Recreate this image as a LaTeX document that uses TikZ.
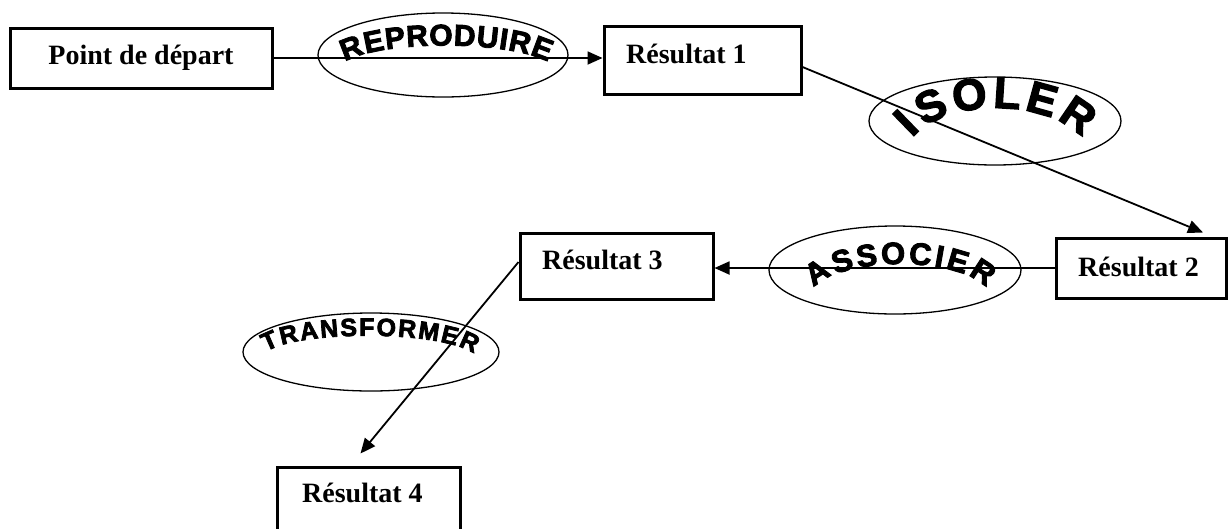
\documentclass[tikz,border=0pt]{standalone}
\usepackage{fontspec}
\setmainfont{Liberation Serif}
\newfontfamily\wafont[FakeBold=3]{Liberation Sans Bold}
\usetikzlibrary{arrows.meta,decorations.text,shapes.geometric}
\begin{document}
\begin{tikzpicture}[x=1pt,y=-1pt,
  box/.style={draw, line width=3pt, inner sep=0pt},
  lbl/.style={font=\bfseries\fontsize{28}{28}\selectfont, inner sep=0pt, anchor=base west},
  oval/.style={draw, ellipse, line width=1.3pt, inner sep=0pt},
  conn/.style={line width=1.8pt},
  arr/.style={conn, -{Triangle[length=15pt,width=13pt]}}
]
\useasboundingbox (0,0) rectangle (1229,528);

% boxes
\node[box, minimum width=262pt, minimum height=60pt, font=\bfseries\fontsize{28}{28}\selectfont] (P0) at (141,58) {Point de départ};
\node[box, minimum width=197pt, minimum height=68pt] (R1) at (702.5,60) {};
\node[lbl] (T1) at (626,63) {Résultat 1};
\node[box, minimum width=170pt, minimum height=60pt] (R2) at (1141,268) {};
\node[lbl] (T2) at (1078,276) {Résultat 2};
\node[box, minimum width=193pt, minimum height=66pt] (R3) at (616.5,266) {};
\node[lbl] (T3) at (542,269) {Résultat 3};
\node[box, minimum width=183pt, minimum height=68pt] (R4) at (368.5,501) {};
\node[lbl] (T4) at (302,502) {Résultat 4};

% ellipses
\node[oval, minimum width=250pt, minimum height=84pt] (E1) at (443,55) {};
\node[oval, minimum width=252pt, minimum height=88pt] (E2) at (995,121) {};
\node[oval, minimum width=252pt, minimum height=88pt] (E3) at (895,270) {};
\node[oval, minimum width=256pt, minimum height=78pt] (E4) at (371,352) {};

% connectors
\draw[arr] (P0.east) -- (P0.east -| R1.west);
\draw[arr] ([yshift=-7pt]R1.east) -- ([xshift=62pt,yshift=4pt]R2.north);
\draw[arr] (R2.west) -- (R2.west -| R3.east);
\draw[arr] ([yshift=4pt]R3.west) -- ([xshift=-8pt,yshift=12pt]R4.north);

% arched word-art labels
\path[decorate, decoration={text along path, text align={fit to path},
  text={|\wafont\fontsize{30}{30}\selectfont|REPRODUIRE}}]
  (345,62) .. controls (380,40) and (508,40) .. (548,62);
\path[decorate, decoration={text along path, text align={fit to path},
  text={|\wafont\fontsize{44}{44}\selectfont|ISOLER}}]
  (912,138) .. controls (945,98) and (1045,98) .. (1082,138);
\path[decorate, decoration={text along path, text align={fit to path},
  text={|\wafont\fontsize{31}{31}\selectfont|ASSOCIER}}]
  (814,288) .. controls (842,256) and (958,256) .. (986,288);
\path[decorate, decoration={text along path, text align={fit to path},
  text={|\wafont\fontsize{25}{25}\selectfont|TRANSFORMER}}]
  (266,352) .. controls (298,330) and (442,330) .. (474,354);
\end{tikzpicture}
\end{document}
